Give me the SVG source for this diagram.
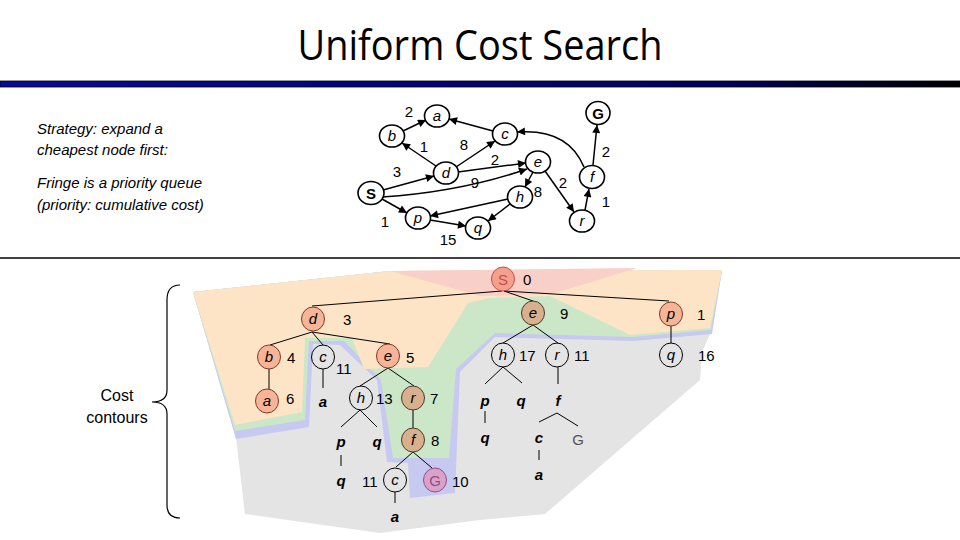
<svg xmlns="http://www.w3.org/2000/svg" width="960" height="540" viewBox="0 0 960 540">
<defs>
<linearGradient id="bar" x1="0" y1="0" x2="1" y2="0">
<stop offset="0" stop-color="#0a0a9a"/><stop offset="0.75" stop-color="#000060"/><stop offset="1" stop-color="#000000"/>
</linearGradient>
<marker id="arr" viewBox="0 0 10 10" refX="10" refY="5" markerWidth="9" markerHeight="8" markerUnits="userSpaceOnUse" orient="auto">
<path d="M0,0 L10,5 L0,10 z" fill="#000"/>
</marker>
<style>
.t{font-family:"Liberation Sans",Arial,sans-serif;fill:#000}
.gn{fill:#fff;stroke:#000;stroke-width:1.6}
.gl{font-family:"Liberation Sans",Arial,sans-serif;font-style:italic;font-size:15px;text-anchor:middle}
.ew{font-family:"Liberation Sans",Arial,sans-serif;font-size:15px;text-anchor:middle}
.e{fill:none;stroke:#000;stroke-width:1.5;marker-end:url(#arr)}
.tl{fill:none;stroke:#000;stroke-width:1}
.nc{fill:none;stroke:#000;stroke-width:1}
.or{fill:#f8b496;stroke:#7b3b2b;stroke-width:1}
.tan{fill:#d8b08e;stroke:#4a3a2a;stroke-width:1}
.lt{font-family:"Liberation Sans",Arial,sans-serif;font-style:italic;font-size:15px;text-anchor:middle}
.lb{font-family:"Liberation Sans",Arial,sans-serif;font-style:italic;font-weight:bold;font-size:15px;text-anchor:middle}
.num{font-family:"Liberation Sans",Arial,sans-serif;font-size:15px}
</style>
</defs>
<rect width="960" height="540" fill="#fff"/>
<text class="t" x="480" y="60" font-family="'Open Sans',sans-serif" font-size="42" text-anchor="middle" textLength="365" lengthAdjust="spacingAndGlyphs" style="font-family:'Open Sans',sans-serif">Uniform Cost Search</text>
<rect x="0" y="81" width="960" height="6" fill="url(#bar)" stroke="#000" stroke-width="0.8"/>
<g id="text-left" class="t" font-style="italic" font-size="15">
<text x="37" y="134">Strategy: expand a</text>
<text x="37" y="155">cheapest node first:</text>
<text x="37" y="188">Fringe is a priority queue</text>
<text x="37" y="210">(priority: cumulative cost)</text>
</g>
<!-- graph connectors -->
<g id="graph-edges">
<path class="e" d="M403,131 L426,120"/>
<path class="e" d="M493,131 L449,119"/>
<path class="e" d="M436,166 L402,143"/>
<path class="e" d="M456,167 L495,141"/>
<path class="e" d="M383,190 L434,176"/>
<path class="e" d="M458,172 L526,163"/>
<path class="e" d="M382,197 Q460,192 527,169"/>
<path class="e" d="M533,172 L525,187"/>
<path class="e" d="M545,171 L574,212"/>
<path class="e" d="M584,167 Q568,128 517,132"/>
<path class="e" d="M593,165 L597,125"/>
<path class="e" d="M585,210 L589,189"/>
<path class="e" d="M382,199 L407,213"/>
<path class="e" d="M508,199 L430,216"/>
<path class="e" d="M510,204 L488,221"/>
<path class="e" d="M430,220 L466,226"/>
</g>
<g id="graph-weights">
<text class="ew" x="409" y="117">2</text>
<text class="ew" x="424" y="152">1</text>
<text class="ew" x="464" y="150">8</text>
<text class="ew" x="397" y="177">3</text>
<text class="ew" x="495" y="165">2</text>
<text class="ew" x="475" y="188">9</text>
<text class="ew" x="538" y="197">8</text>
<text class="ew" x="563" y="188">2</text>
<text class="ew" x="606" y="157">2</text>
<text class="ew" x="606" y="207">1</text>
<text class="ew" x="385" y="227">1</text>
<text class="ew" x="448" y="245">15</text>
</g>
<g id="g-a"><ellipse class="gn" cx="437" cy="116" rx="12.5" ry="11"/><text class="gl" x="437" y="121">a</text></g>
<g id="g-b"><ellipse class="gn" cx="392" cy="136" rx="12.5" ry="11"/><text class="gl" x="392" y="141">b</text></g>
<g id="g-c"><ellipse class="gn" cx="505" cy="134" rx="12.5" ry="11"/><text class="gl" x="505" y="139">c</text></g>
<g id="g-d"><ellipse class="gn" cx="446" cy="173" rx="12.5" ry="11"/><text class="gl" x="446" y="178">d</text></g>
<g id="g-e"><ellipse class="gn" cx="538" cy="162" rx="12.5" ry="11"/><text class="gl" x="538" y="167">e</text></g>
<g id="g-f"><ellipse class="gn" cx="592" cy="177" rx="12.5" ry="11.5"/><text class="gl" x="592" y="182">f</text></g>
<g id="g-G"><ellipse class="gn" cx="598" cy="113" rx="12" ry="11.5" stroke-width="2"/><text class="ew" x="598" y="119" font-weight="bold" font-size="17">G</text></g>
<g id="g-S"><ellipse class="gn" cx="371" cy="193" rx="13" ry="11.5" stroke-width="2"/><text class="ew" x="371" y="199" font-weight="bold" font-size="17">S</text></g>
<g id="g-h"><ellipse class="gn" cx="520" cy="197" rx="12.5" ry="11"/><text class="gl" x="520" y="202">h</text></g>
<g id="g-p"><ellipse class="gn" cx="418" cy="218" rx="12.5" ry="11"/><text class="gl" x="418" y="223">p</text></g>
<g id="g-q"><ellipse class="gn" cx="478" cy="228" rx="12.5" ry="11"/><text class="gl" x="478" y="233">q</text></g>
<g id="g-r"><ellipse class="gn" cx="582" cy="221" rx="12.5" ry="11"/><text class="gl" x="582" y="226">r</text></g>
<line x1="0" y1="258" x2="960" y2="258" stroke="#000" stroke-width="1.5"/>
<!-- cost contours -->
<g id="contours">
<polygon fill="#e4e4e4" points="193,292 390,271 722,270 712,330 702,352 700,380 545,514 480,520 380,533 245,514 236,438"/>
<polygon fill="#c6c9f0" points="193,292 390,271 722,270 712,334 633,341 495,337 460,372 455,493 410,498 408,463 387,462 377,380 340,345 313,344 309,427 236,439"/>
<polygon fill="#cce6c8" points="193,292 390,271 722,270 711,330 633,337 495,333 456,369 449,458 393,458 381,380 344,341 309,341 305,420 235,431"/>
<polygon fill="#fde4c6" points="193,292 390,271 722,270 710,328 630,335 550,296 490,298 468,303 428,367 364,369 352,338 305,338 302,412 235,425"/>
<polygon fill="#f9d0c8" points="390,271 637,268 552,294 480,296"/>
</g>
<g id="brace"><path d="M180,285 C170,285 167,291 167,300 L167,390 C167,398 162,402 152,402 C162,402 167,406 167,414 L167,505 C167,513 170,518 180,518" fill="none" stroke="#000" stroke-width="1.2"/>
<text class="t" x="117" y="401" font-size="16" text-anchor="middle">Cost</text>
<text class="t" x="117" y="423" font-size="16" text-anchor="middle">contours</text></g>
<!-- tree connectors -->
<g id="tree-edges">
<path class="tl" d="M502,291 L312,306"/>
<path class="tl" d="M504,291 L533,301"/>
<path class="tl" d="M504,291 L669,301"/>
<path class="tl" d="M533,325 L503,343"/>
<path class="tl" d="M533,325 L558,343"/>
<path class="tl" d="M671,326 L671,343"/>
<path class="tl" d="M312,332 L270,345"/>
<path class="tl" d="M312,332 L323,345"/>
<path class="tl" d="M312,332 L390,344"/>
<path class="tl" d="M269,369 L269,389"/>
<path class="tl" d="M323,369 L323,388"/>
<path class="tl" d="M388,368 L360,386"/>
<path class="tl" d="M388,368 L414,386"/>
<path class="tl" d="M360,410 L341,427"/>
<path class="tl" d="M360,410 L377,427"/>
<path class="tl" d="M341,455 L341,466"/>
<path class="tl" d="M413,410 L413,428"/>
<path class="tl" d="M413,452 L396,467"/>
<path class="tl" d="M413,452 L432,468"/>
<path class="tl" d="M395,492 L395,503"/>
<path class="tl" d="M503,367 L485,384"/>
<path class="tl" d="M503,367 L522,383"/>
<path class="tl" d="M485,411 L485,423"/>
<path class="tl" d="M558,367 L558,384"/>
<path class="tl" d="M557,413 L539,422"/>
<path class="tl" d="M557,413 L578,426"/>
<path class="tl" d="M539,450 L539,460"/>
</g>
<!-- tree nodes -->
<g id="t-S"><ellipse cx="503" cy="279" rx="11.5" ry="12" fill="#f5a08c" stroke="#c0504d" stroke-width="1"/><text class="ew" x="503" y="285" fill="#c0504d" style="fill:#c0504d">S</text><text class="num" x="523" y="285">0</text></g>
<g id="t-d"><ellipse class="or" cx="313" cy="319" rx="11.5" ry="12"/><text class="lt" x="313" y="324">d</text><text class="num" x="343" y="325">3</text></g>
<g id="t-e9"><ellipse class="tan" cx="533" cy="313" rx="11.5" ry="12"/><text class="lt" x="533" y="318">e</text><text class="num" x="560" y="319">9</text></g>
<g id="t-p1"><ellipse class="or" cx="671" cy="314" rx="11.5" ry="12"/><text class="lt" x="671" y="319">p</text><text class="num" x="697" y="320">1</text></g>
<g id="t-b"><ellipse class="or" cx="269" cy="357" rx="11.5" ry="12"/><text class="lt" x="269" y="362">b</text><text class="num" x="287" y="363">4</text></g>
<g id="t-c11"><ellipse class="nc" cx="323" cy="357" rx="11.5" ry="12"/><text class="lt" x="323" y="362">c</text><text class="num" x="336" y="374">11</text></g>
<g id="t-e5"><ellipse class="or" cx="388" cy="356" rx="11.5" ry="12"/><text class="lt" x="388" y="361">e</text><text class="num" x="406" y="363">5</text></g>
<g id="t-h17"><ellipse class="nc" cx="503" cy="355" rx="11.5" ry="12"/><text class="lt" x="503" y="360">h</text><text class="num" x="519" y="361">17</text></g>
<g id="t-r11"><ellipse class="nc" cx="557" cy="355" rx="11.5" ry="12"/><text class="lt" x="557" y="360">r</text><text class="num" x="574" y="361">11</text></g>
<g id="t-q16"><ellipse class="nc" cx="671" cy="355" rx="11.5" ry="12"/><text class="lt" x="671" y="360">q</text><text class="num" x="698" y="361">16</text></g>
<g id="t-a6"><ellipse class="or" cx="267" cy="401" rx="11.5" ry="12"/><text class="lt" x="267" y="406">a</text><text class="num" x="286" y="404">6</text></g>
<g id="t-a-c"><text class="lb" x="323" y="407">a</text></g>
<g id="t-h13"><ellipse class="nc" cx="361" cy="398" rx="11.5" ry="12"/><text class="lt" x="361" y="403">h</text><text class="num" x="376" y="404">13</text></g>
<g id="t-r7"><ellipse class="tan" cx="413" cy="398" rx="11.5" ry="12"/><text class="lt" x="413" y="403">r</text><text class="num" x="430" y="404">7</text></g>
<g id="t-p-h"><text class="lb" x="341" y="447">p</text></g>
<g id="t-q-h"><text class="lb" x="377" y="447">q</text></g>
<g id="t-f8"><ellipse class="tan" cx="413" cy="440" rx="11.5" ry="12"/><text class="lt" x="413" y="445">f</text><text class="num" x="431" y="446">8</text></g>
<g id="t-q-p"><text class="lb" x="341" y="486">q</text></g>
<g id="t-c-f"><ellipse class="nc" cx="395" cy="480" rx="11.5" ry="12"/><text class="lt" x="395" y="485">c</text><text class="num" x="362" y="487">11</text></g>
<g id="t-G10"><ellipse cx="435" cy="480" rx="11.5" ry="12" fill="#d9a3c9" stroke="#9a4a8a" stroke-width="1"/><text class="ew" x="435" y="486" style="fill:#9a4a8a">G</text><text class="num" x="452" y="487">10</text></g>
<g id="t-a-cf"><text class="lb" x="395" y="522">a</text></g>
<g id="t-p-h17"><text class="lb" x="485" y="406">p</text></g>
<g id="t-q-h17"><text class="lb" x="521" y="406">q</text></g>
<g id="t-f-r11"><text class="lb" x="558" y="406">f</text></g>
<g id="t-q-p2"><text class="lb" x="485" y="443">q</text></g>
<g id="t-c-f2"><text class="lb" x="539" y="443">c</text></g>
<g id="t-G-f2"><text class="ew" x="578" y="445" style="fill:#555">G</text></g>
<g id="t-a-c2"><text class="lb" x="539" y="480">a</text></g>
</svg>
